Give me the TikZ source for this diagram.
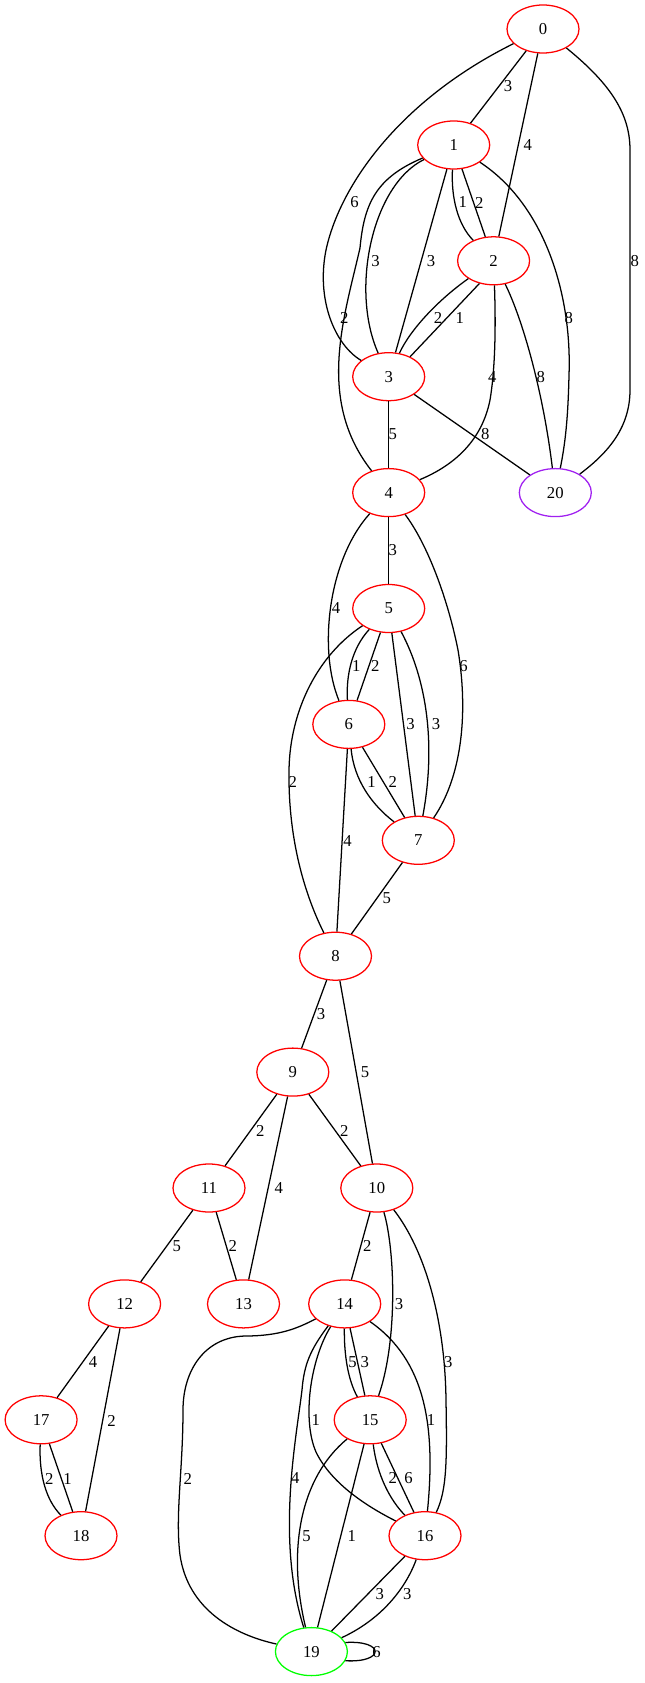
\documentclass[tikz,border=0pt]{standalone}
\usepackage{fontspec}
\setmainfont{Liberation Serif}
\usetikzlibrary{shapes.geometric}
\definecolor{gvpurple}{HTML}{A020F0}
\definecolor{gvgreen}{HTML}{00FF00}
\tikzset{
  v/.style={ellipse, draw=red, line width=0.95pt, minimum width=54pt, minimum height=36pt, inner sep=0pt, font=\fontsize{12.5}{14}\selectfont},
  e/.style={line width=0.95pt, black},
  lbl/.style={inner sep=0pt, font=\fontsize{12.5}{14}\selectfont}
}
\begin{document}
\begin{tikzpicture}[x=0.75pt,y=-0.75pt]
\useasboundingbox (0,0) rectangle (645,1683);
% nodes
\node[v] (n0) at (543,29) {0};
\node[v] (n1) at (453.7,145) {1};
\node[v] (n2) at (493.6,260.8) {2};
\node[v] (n3) at (388.7,376.7) {3};
\node[v] (n4) at (388.7,492.6) {4};
\node[v, draw=gvpurple] (n20) at (555.3,492.6) {20};
\node[v] (n5) at (388.7,608.5) {5};
\node[v] (n6) at (348.8,724.4) {6};
\node[v] (n7) at (418.3,840.3) {7};
\node[v] (n8) at (335.5,956.2) {8};
\node[v] (n9) at (292.8,1072.1) {9};
\node[v] (n11) at (209,1188) {11};
\node[v] (n10) at (376.8,1188) {10};
\node[v] (n12) at (124.6,1303.9) {12};
\node[v] (n13) at (243.5,1303.9) {13};
\node[v] (n14) at (344.7,1303.9) {14};
\node[v] (n17) at (41.1,1419.8) {17};
\node[v] (n15) at (370.2,1419.8) {15};
\node[v] (n18) at (81,1535.7) {18};
\node[v] (n16) at (425,1535.7) {16};
\node[v, draw=gvgreen] (n19) at (311.4,1651.6) {19};
% edges
\draw[e] (n0) -- (n1) node[lbl] (t0a) at (508,86.5) {3};
\draw[e] (n0) -- (n2) node[lbl] (t0b) at (527.8,145) {4};
\draw[e] (n0) .. controls (400,100) and (340,185) .. (326,250) .. controls (316,300) and (335,345) .. (n3) node[lbl] (t0c) at (354.6,202.5) {6};
\draw[e] (n0) .. controls (612,85) and (630,115) .. (630,150) -- (630,390) .. controls (630,430) and (605,455) .. (n20) node[lbl] (t0d) at (634.7,260.7) {8};
\draw[e] (n1) .. controls (451,198) and (458,225) .. (n2) node[lbl] (t1a) at (462.8,202.5) {1};
\draw[e] (n1) -- (n2) node[lbl] (t1b) at (479.2,202.5) {2};
\draw[e] (n1) .. controls (372,185) and (350,290) .. (n3) node[lbl] (t1c) at (375.6,260.7) {3};
\draw[e] (n1) -- (n3) node[lbl] (t1d) at (431.1,260.7) {3};
\draw[e] (n1) .. controls (375,178) and (364,205) .. (360,248) .. controls (344,318) and (316,400) .. (n4) node[lbl] (t1e) at (344.3,317.9) {2};
\draw[e] (n1) .. controls (545,205) and (572,295) .. (569,375) .. controls (568,420) and (565,445) .. (n20) node[lbl] (t1f) at (568.9,317.9) {8};
\draw[e] (n2) .. controls (438,300) and (410,330) .. (n3) node[lbl] (t2a) at (438.1,317.9) {2};
\draw[e] (n2.238) -- (n3.43) node[lbl] (t2b) at (459.9,317.9) {1};
\draw[e] (n2) .. controls (496,330) and (495,370) .. (490,400) .. controls (482,440) and (455,465) .. (n4) node[lbl] (t2c) at (492.4,376.8) {4};
\draw[e] (n2) .. controls (522,318) and (543,390) .. (n20) node[lbl] (t2d) at (540.9,376.8) {8};
\draw[e] (n3) -- (n4) node[lbl] (t3a) at (392.8,433.9) {5};
\draw[e] (n3) -- (n20) node[lbl] (t3b) at (485.4,433.9) {8};
\draw[e] (n4) -- (n5) node[lbl] (t4a) at (392.8,550) {3};
\draw[e] (n4) .. controls (328,560) and (318,650) .. (n6) node[lbl] (t4b) at (336.1,607.9) {4};
\draw[e] (n4) .. controls (428,545) and (448,600) .. (458,650) .. controls (468,710) and (463,775) .. (n7) node[lbl] (t4c) at (463.6,665.7) {6};
\draw[e] (n5) .. controls (352,648) and (346,675) .. (n6) node[lbl] (t5a) at (356.2,665.7) {1};
\draw[e] (n5) -- (n6) node[lbl] (t5b) at (375.2,665.7) {2};
\draw[e] (n5) -- (n7) node[lbl] (t5c) at (410.5,723.9) {3};
\draw[e] (n5) .. controls (427,680) and (436,745) .. (n7) node[lbl] (t5d) at (436,723.9) {3};
\draw[e] (n5) .. controls (318,655) and (290,710) .. (289,770) .. controls (288,840) and (305,895) .. (n8) node[lbl] (t5e) at (292.9,782.1) {2};
\draw[e] (n6) .. controls (354,780) and (372,805) .. (n7) node[lbl] (t6a) at (371.5,782.1) {1};
\draw[e] (n6) -- (n7) node[lbl] (t6b) at (392.8,782.1) {2};
\draw[e] (n6) -- (n8) node[lbl] (t6c) at (347.6,840.7) {4};
\draw[e] (n7) -- (n8) node[lbl] (t7a) at (386.7,898) {5};
\draw[e] (n8) -- (n9) node[lbl] (t8a) at (321,1014) {3};
\draw[e] (n8) -- (n10) node[lbl] (t8b) at (365,1072.2) {5};
\draw[e] (n9) -- (n11) node[lbl] (t9a) at (260.4,1130.5) {2};
\draw[e] (n9) -- (n13) node[lbl] (t9b) at (278.9,1188.5) {4};
\draw[e] (n9) -- (n10) node[lbl] (t9c) at (344.3,1130.5) {2};
\draw[e] (n11) -- (n12) node[lbl] (t11a) at (176.9,1246.1) {5};
\draw[e] (n11) -- (n13) node[lbl] (t11b) at (232.8,1246.1) {2};
\draw[e] (n10) -- (n14) node[lbl] (t10a) at (367.3,1246.1) {2};
\draw[e] (n10) .. controls (395,1250) and (398,1340) .. (n15) node[lbl] (t10b) at (399,1304.5) {3};
\draw[e] (n10) .. controls (425,1250) and (445,1320) .. (446,1400) .. controls (447,1460) and (447,1490) .. (n16) node[lbl] (t10c) at (448.4,1362.1) {3};
\draw[e] (n12) -- (n17) node[lbl] (t12a) at (93,1362.1) {4};
\draw[e] (n12) -- (n18) node[lbl] (t12b) at (111.6,1420.6) {2};
\draw[e] (n14) .. controls (298,1328) and (280,1336) .. (245,1336) .. controls (205,1337) and (183,1370) .. (183,1410) .. controls (183,1470) and (175,1515) .. (180,1555) .. controls (188,1610) and (235,1635) .. (n19) node[lbl] (t14a) at (187.8,1478.6) {2};
\draw[e] (n14) .. controls (344,1355) and (348,1380) .. (n15) node[lbl] (t14b) at (352.5,1362.1) {5};
\draw[e] (n14) -- (n15) node[lbl] (t14c) at (364.9,1362.1) {3};
\draw[e] (n14) .. controls (310,1360) and (302,1420) .. (316,1452) .. controls (332,1485) and (370,1508) .. (n16) node[lbl] (t14d) at (315.9,1420.4) {1};
\draw[e] (n14) .. controls (425,1360) and (436,1425) .. (n16) node[lbl] (t14e) at (431.1,1420.4) {1};
\draw[e] (n14) .. controls (310,1350) and (304,1365) .. (302,1390) .. controls (296,1440) and (276,1540) .. (n19) node[lbl] (t14f) at (295.4,1478.1) {4};
\draw[e] (n15) .. controls (377,1475) and (390,1500) .. (n16) node[lbl] (t15a) at (392.8,1478.1) {2};
\draw[e] (n15) -- (n16) node[lbl] (t15b) at (408.5,1478.1) {6};
\draw[e] (n15) .. controls (300,1478) and (287,1550) .. (n19) node[lbl] (t15c) at (306.6,1536.2) {5};
\draw[e] (n15) -- (n19) node[lbl] (t15d) at (351.7,1536.2) {1};
\draw[e] (n16) -- (n19) node[lbl] (t16a) at (379.8,1594.2) {3};
\draw[e] (n16) .. controls (405,1590) and (380,1620) .. (n19) node[lbl] (t16b) at (407.2,1594.2) {3};
\draw[e] (n17) .. controls (39,1475) and (46,1500) .. (n18) node[lbl] (t17a) at (49.2,1478.6) {2};
\draw[e] (n17) -- (n18) node[lbl] (t17b) at (67.6,1478.6) {1};
\draw[e] (n19.15) .. controls (385,1640) and (385,1663) .. (n19.-15) node[lbl] (t19a) at (376.5,1652.4) {6};
\end{tikzpicture}
\end{document}
